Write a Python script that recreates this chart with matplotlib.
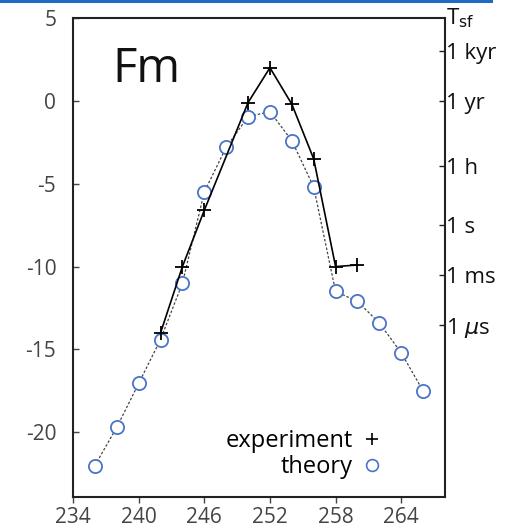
import numpy as np
import matplotlib
matplotlib.use('Agg')
import matplotlib.pyplot as plt
from matplotlib.lines import Line2D

plt.rcParams['font.family'] = ['Open Sans', 'DejaVu Sans']
plt.rcParams['axes.unicode_minus'] = False

# experiment (+)
exp_a = [242, 244, 246, 250, 252, 254, 256, 258, 260]
exp_log_t = [-14.0, -10.0, -6.6, -0.1, 2.0, -0.2, -3.5, -10.0, -9.9]

# theory (o)
th_a = [236, 238, 240, 242, 244, 246, 248, 250, 252, 254, 256, 258, 260, 262, 264, 266]
th_log_t = [-22.0, -19.7, -17.05, -14.4, -11.0, -5.5, -2.8, -0.95, -0.65, -2.4,
            -5.2, -11.5, -12.1, -13.4, -15.2, -17.5]

x_ticks = [234, 240, 246, 252, 258, 264]
y_ticks = [5, 0, -5, -10, -15, -20]

# right axis: half-life in seconds, plotted as log10(T / yr)
year_s = 3.156e7
tsf_seconds = [3.156e10, 3.156e7, 3600, 1, 1e-3, 1e-6]
tsf_labels = ['1 kyr', '1 yr', '1 h', '1 s', '1 ms', r'1 $\mu$s']

tick_color = '#444444'
blue = '#4a74c9'

fig = plt.figure(figsize=(5.18, 5.32), dpi=100)
# blue header strip at the very top
fig.add_artist(plt.Rectangle((0, 1 - 3 / 532), 493 / 518, 3 / 532,
                             transform=fig.transFigure, color='#1b6cc2', lw=0))

ax = fig.add_axes([73 / 518, 35 / 532, 372 / 518, 479 / 532])

ax.plot(th_a, th_log_t, color='#444444', lw=0.9, ls=(0, (2, 1.5)), zorder=2)
ax.plot(th_a, th_log_t, ls='none', marker='o', ms=9.5, mfc='white', mec=blue,
        mew=1.3, zorder=3)
ax.plot(exp_a, exp_log_t, color='black', lw=1.2, marker='+', ms=10, mew=1.3,
        zorder=4)

ax.set_xlim(234, 268)
ax.set_ylim(-23.9, 5)
ax.set_xticks(x_ticks)
ax.set_yticks(y_ticks)
ax.tick_params(axis='x', direction='out', length=4, width=1, pad=3,
               labelsize=15, labelcolor=tick_color, color=tick_color)
ax.tick_params(axis='y', direction='in', length=4, width=1, pad=12,
               labelsize=15, labelcolor=tick_color, color=tick_color)
for s in ax.spines.values():
    s.set_linewidth(1.5)
    s.set_color('#222222')

ax.text(237.6, 1.15, 'Fm', fontsize=34, color='#111111')

ax2 = ax.twinx()
ax2.set_ylim(ax.get_ylim())
ax2.set_yticks(np.log10(np.array(tsf_seconds) / year_s))
ax2.set_yticklabels(tsf_labels)
ax2.tick_params(axis='y', direction='in', length=4, width=1, pad=1,
                labelsize=16, labelcolor='#111111', color='#222222')
for s in ax2.spines.values():
    s.set_visible(False)
ax2.text(1.003, 1.0, r'T$_{\rm sf}$', transform=ax.transAxes, fontsize=16,
         va='center', ha='left', color='#111111')

handles = [Line2D([], [], ls='none', marker='+', ms=9, mew=1.2, color='black'),
           Line2D([], [], ls='none', marker='o', ms=8.5, mfc='white', mec=blue,
                  mew=1.2)]
ax.legend(handles, ['experiment', 'theory'], loc='lower right',
          bbox_to_anchor=(0.86, 0.013), markerfirst=False, frameon=False,
          fontsize=17, handlelength=0.8, handletextpad=0.4, labelspacing=0.08,
          borderpad=0)

fig.savefig('out.png', dpi=100)
